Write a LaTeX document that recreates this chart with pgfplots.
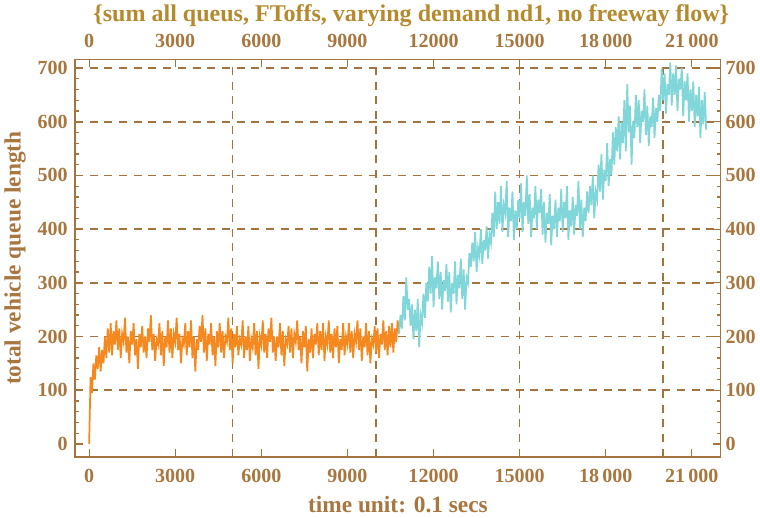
\documentclass[border=0pt]{standalone}
\usepackage{fontspec}
\setmainfont{Liberation Serif}
\usepackage{pgfplots}
\pgfplotsset{compat=1.18}
\definecolor{axbrown}{HTML}{A4733E}
\definecolor{txtbrown}{HTML}{A8763F}
\definecolor{titgold}{HTML}{B58A2E}
\definecolor{morange}{HTML}{F5891F}
\definecolor{mcyan}{HTML}{80D6D8}
\pgfplotsset{
 common/.style={
  scale only axis, width=483.75pt, height=297.75pt,
  xmin=-490, xmax=22010, ymin=-24, ymax=716,
  axis line style={axbrown, line width=1pt},
  xtick={0,3000,6000,9000,12000,15000,18000,21000},
  xticklabels={0,3000,6000,9000,12000,15000,18\,000,21\,000},
  ytick={0,100,200,300,400,500,600,700},
  minor y tick num=4,
  tick style={axbrown, line width=0.9pt},
  major tick length=6pt, minor tick length=3pt,
  tick align=inside,
  ticklabel style={font=\fontsize{15}{18}\selectfont\bfseries, text=txtbrown},
  /pgf/number format/assume math mode=true,
  scaled x ticks=false,
 }
}
\begin{document}
\begin{tikzpicture}
\begin{axis}[common,
  xlabel={time unit: 0.1 secs},
  ylabel={total vehicle queue length},
  xticklabel style={yshift=-6pt},
  yticklabel style={xshift=-2pt},
  xlabel style={font=\fontsize{17.5}{20}\selectfont\bfseries, text=txtbrown, yshift=-3pt},
  ylabel style={font=\fontsize{17.5}{20}\selectfont\bfseries, text=txtbrown, yshift=2pt},
  extra x ticks={5000,10000,15000,20000},
  extra x tick labels={},
  extra x tick style={grid=major, major tick length=0pt},
  extra y ticks={100,200,300,400,500,600,700},
  extra y tick labels={},
  extra y tick style={grid=major, major tick length=0pt},
  grid style={axbrown, line width=1.3pt, dash pattern=on 6pt off 5pt},
  major grid style={axbrown, line width=1.3pt, dash pattern=on 6pt off 5pt},
]
\addplot[morange, line width=1.3pt] coordinates {
(0,0)(50,125)(100,95)(150,150)(200,120)(250,165)(300,140)(350,180)(400,135)(450,175)
(500,150)(550,200)(600,160)(650,215)(700,170)(750,225)(800,165)(850,210)(900,185)(950,230)
(1000,175)(1050,215)(1100,160)(1150,205)(1200,190)(1250,235)(1300,170)(1350,200)(1400,150)(1450,210)
(1500,185)(1550,225)(1600,165)(1650,195)(1700,140)(1750,205)(1800,180)(1850,220)(1900,170)(1950,200)
(2000,160)(2050,215)(2100,190)(2150,240)(2200,175)(2250,205)(2300,155)(2350,195)(2400,185)(2450,225)
(2500,165)(2550,210)(2600,145)(2650,200)(2700,180)(2750,230)(2800,170)(2850,215)(2900,160)(2950,205)
(3000,190)(3050,235)(3100,175)(3150,205)(3200,150)(3250,195)(3300,185)(3350,225)(3400,165)(3450,210)
(3500,180)(3550,230)(3600,160)(3650,200)(3700,135)(3750,195)(3800,175)(3850,220)(3900,190)(3950,240)
(4000,170)(4050,215)(4100,155)(4150,205)(4200,185)(4250,225)(4300,165)(4350,200)(4400,145)(4450,210)
(4500,180)(4550,225)(4600,170)(4650,210)(4700,160)(4750,200)(4800,190)(4850,235)(4900,175)(4950,215)
(5000,150)(5050,205)(5100,180)(5150,220)(5200,165)(5250,195)(5300,185)(5350,230)(5400,160)(5450,200)
(5500,175)(5550,220)(5600,155)(5650,195)(5700,180)(5750,225)(5800,165)(5850,210)(5900,140)(5950,200)
(6000,185)(6050,230)(6100,170)(6150,205)(6200,160)(6250,215)(6300,190)(6350,235)(6400,170)(6450,200)
(6500,155)(6550,200)(6600,180)(6650,225)(6700,165)(6750,210)(6800,145)(6850,195)(6900,185)(6950,220)
(7000,170)(7050,215)(7100,160)(7150,205)(7200,190)(7250,230)(7300,175)(7350,200)(7400,150)(7450,210)
(7500,180)(7550,220)(7600,135)(7650,195)(7700,170)(7750,215)(7800,160)(7850,205)(7900,185)(7950,225)
(8000,165)(8050,210)(8100,175)(8150,225)(8200,155)(8250,200)(8300,185)(8350,230)(8400,170)(8450,205)
(8500,160)(8550,215)(8600,180)(8650,220)(8700,150)(8750,195)(8800,175)(8850,225)(8900,165)(8950,200)
(9000,185)(9050,225)(9100,170)(9150,210)(9200,160)(9250,205)(9300,190)(9350,230)(9400,175)(9450,215)
(9500,155)(9550,200)(9600,180)(9650,225)(9700,165)(9750,210)(9800,150)(9850,195)(9900,185)(9950,220)
(10000,170)(10050,215)(10100,160)(10150,205)(10200,185)(10250,230)(10300,175)(10350,210)(10400,165)(10450,220)
(10500,180)(10550,225)(10600,170)(10650,215)(10700,190)(10750,230)(10800,205)
};
\addplot[mcyan, line width=1.3pt] coordinates {
(10800,205)(10850,240)(10900,215)(10950,275)(11000,230)(11050,310)(11100,250)(11150,270)(11200,220)(11250,260)
(11300,195)(11350,250)(11400,210)(11450,270)(11500,180)(11550,240)(11600,225)(11650,280)(11700,235)(11750,300)
(11800,265)(11850,330)(11900,280)(11950,350)(12000,255)(12050,310)(12100,290)(12150,340)(12200,270)(12250,320)
(12300,250)(12350,305)(12400,285)(12450,335)(12500,265)(12550,320)(12600,245)(12650,300)(12700,280)(12750,340)
(12800,260)(12850,315)(12900,290)(12950,345)(13000,270)(13050,325)(13100,250)(13150,310)(13200,300)(13250,355)
(13300,330)(13350,375)(13400,340)(13450,395)(13500,320)(13550,365)(13600,350)(13650,400)(13700,335)(13750,380)
(13800,360)(13850,405)(13900,345)(13950,390)(14000,375)(14050,430)(14100,385)(14150,470)(14200,400)(14250,450)
(14300,410)(14350,480)(14400,395)(14450,445)(14500,430)(14550,490)(14600,385)(14650,440)(14700,415)(14750,470)
(14800,380)(14850,435)(14900,400)(14950,455)(15000,420)(15050,485)(15100,395)(15150,450)(15200,425)(15250,500)
(15300,410)(15350,465)(15400,385)(15450,440)(15500,420)(15550,480)(15600,400)(15650,455)(15700,430)(15750,475)
(15800,390)(15850,450)(15900,375)(15950,430)(16000,410)(16050,465)(16100,370)(16150,425)(16200,400)(16250,455)
(16300,385)(16350,440)(16400,415)(16450,475)(16500,395)(16550,450)(16600,420)(16650,480)(16700,380)(16750,435)
(16800,405)(16850,460)(16900,390)(16950,445)(17000,425)(17050,490)(17100,400)(17150,455)(17200,385)(17250,440)
(17300,415)(17350,470)(17400,430)(17450,480)(17500,445)(17550,500)(17600,420)(17650,470)(17700,455)(17750,520)
(17800,470)(17850,540)(17900,455)(17950,510)(18000,490)(18050,560)(18100,480)(18150,530)(18200,500)(18250,580)
(18300,520)(18350,590)(18400,545)(18450,610)(18500,530)(18550,600)(18600,560)(18650,640)(18700,545)(18750,670)
(18800,580)(18850,630)(18900,520)(18950,600)(19000,570)(19050,650)(19100,590)(19150,640)(19200,560)(19250,620)
(19300,600)(19350,660)(19400,575)(19450,630)(19500,555)(19550,610)(19600,590)(19650,645)(19700,570)(19750,625)
(19800,600)(19850,650)(19900,620)(19950,700)(20000,640)(20050,690)(20100,615)(20150,670)(20200,650)(20250,710)
(20300,630)(20350,690)(20400,650)(20450,705)(20500,620)(20550,680)(20600,660)(20650,700)(20700,610)(20750,675)
(20800,640)(20850,690)(20900,600)(20950,660)(21000,620)(21050,675)(21100,590)(21150,650)(21200,610)(21250,665)
(21300,570)(21350,640)(21400,595)(21450,655)(21500,585)
};
\end{axis}
\begin{axis}[common,
  xticklabel pos=right, yticklabel pos=right,
  xticklabel style={yshift=5pt},
  title={\{sum all queus, FToffs, varying demand nd1, no freeway flow\}},
  title style={font=\fontsize{18}{21}\selectfont\bfseries, text=titgold, at={(0.5,1)}, anchor=south, yshift=15pt, xshift=10pt},
]
\end{axis}
\end{tikzpicture}
\end{document}
